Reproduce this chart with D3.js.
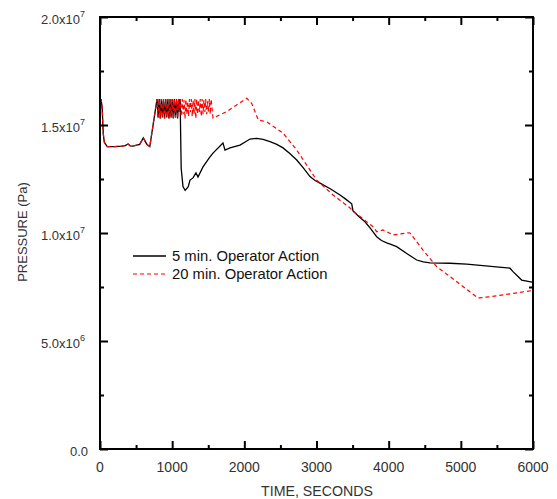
<!DOCTYPE html>
<html><head><meta charset="utf-8">
<script src="https://cdn.jsdelivr.net/npm/d3@7"></script>
<style>body{margin:0;background:#fff}</style>
</head><body>
<svg id="c" width="557" height="499"></svg>
<script>
const xTicks = [0,1000,2000,3000,4000,5000,6000];
const xMinor = [500,1500,2500,3500,4500,5500];
const yTicks = [0,5e6,1e7,1.5e7,2e7];
const yMinor = [2.5e6,7.5e6,1.25e7,1.75e7];
const yTickLabels = [["0.0",""],["5.0x10","6"],["1.0x10","7"],["1.5x10","7"],["2.0x10","7"]];
const seriesNames = ["5 min. Operator Action","20 min. Operator Action"];

const commonT = [0,15,30,45,60,100,200,300,350,390,420,450,550,600,650,690,790];
const commonP = [1.55e7,1.62e7,1.58e7,1.46e7,1.42e7,1.40e7,1.40e7,1.402e7,1.405e7,1.412e7,1.403e7,1.402e7,1.41e7,1.44e7,1.41e7,1.40e7,1.62e7];

const oscT = [805,820,835,850,865,880,895,910,925,940,955,970,985,1000,1015,1030,1045,1060,1075,1090,1100,1110];
const oscP = [1.535e7,1.62e7,1.53e7,1.62e7,1.535e7,1.62e7,1.53e7,1.62e7,1.535e7,1.62e7,1.53e7,1.62e7,1.535e7,1.62e7,1.53e7,1.62e7,1.535e7,1.62e7,1.53e7,1.62e7,1.56e7,1.62e7];

const blackTailT = [1125,1150,1180,1223,1247,1289,1330,1358,1427,1524,1566,1704,1732,1801,1940,2079,2171,2260,2356,2450,2536,2630,2726,2820,2910,2980,3049,3190,3326,3400,3488,3506,3590,3672,3750,3834,3900,3973,4040,4111,4250,4388,4480,4573,4850,5081,5681,5723,5843,5986,6000];
const blackTailP = [1.30e7,1.215e7,1.197e7,1.214e7,1.245e7,1.255e7,1.278e7,1.259e7,1.306e7,1.352e7,1.370e7,1.417e7,1.384e7,1.394e7,1.407e7,1.435e7,1.438e7,1.433e7,1.423e7,1.41e7,1.394e7,1.368e7,1.338e7,1.30e7,1.261e7,1.243e7,1.231e7,1.205e7,1.176e7,1.158e7,1.135e7,1.102e7,1.075e7,1.052e7,1.02e7,0.983e7,0.965e7,0.954e7,0.946e7,0.937e7,0.905e7,0.875e7,0.866e7,0.862e7,0.860e7,0.856e7,0.837e7,0.821e7,0.782e7,0.773e7,0.773e7];

const redTailT = [1125,1140,1152,1165,1178,1190,1203,1215,1228,1240,1253,1265,1278,1290,1303,1315,1328,1340,1353,1365,1378,1390,1403,1415,1428,1440,1453,1465,1478,1490,1503,1515,1528,1540,1566,1755,1894,2033,2102,2194,2310,2536,2726,3003,3229,3464,3506,3783,3834,3922,4061,4268,4296,4476,4666,4850,5238,5404,5982,6000];
const redTailP = [1.54e7,1.62e7,1.55e7,1.615e7,1.53e7,1.62e7,1.55e7,1.61e7,1.54e7,1.62e7,1.56e7,1.62e7,1.54e7,1.615e7,1.55e7,1.62e7,1.53e7,1.62e7,1.55e7,1.615e7,1.56e7,1.62e7,1.54e7,1.62e7,1.55e7,1.615e7,1.56e7,1.62e7,1.55e7,1.61e7,1.56e7,1.62e7,1.55e7,1.62e7,1.532e7,1.562e7,1.593e7,1.624e7,1.600e7,1.523e7,1.515e7,1.463e7,1.384e7,1.245e7,1.176e7,1.116e7,1.102e7,1.029e7,1.006e7,1.014e7,0.991e7,1.001e7,1.0e7,0.921e7,0.844e7,0.798e7,0.699e7,0.705e7,0.733e7,0.734e7];

const blackT = commonT.concat(oscT, blackTailT);
const blackP = commonP.concat(oscP, blackTailP);
const redT = commonT.concat(oscT, redTailT);
const redP = commonP.concat(oscP, redTailP);

const svg = d3.select("#c");
const L=100, R=533, T=17, B=449;
const x = d3.scaleLinear().domain([0,6000]).range([L,R]);
const y = d3.scaleLinear().domain([0,2e7]).range([B,T]);
const font = "'Liberation Sans', Arial, sans-serif";

const line = d3.line().x(d=>x(d[0])).y(d=>y(d[1]));
svg.append("clipPath").attr("id","pc").append("rect").attr("x",L).attr("y",T).attr("width",R-L).attr("height",B-T);
const g = svg.append("g").attr("clip-path","url(#pc)");
g.append("path").datum(d3.zip(blackT,blackP)).attr("d",line).attr("fill","none").attr("stroke","#000").attr("stroke-width",1.3);
g.append("path").datum(d3.zip(redT,redP)).attr("d",line).attr("fill","none").attr("stroke","#ff0000").attr("stroke-width",1.2).attr("stroke-dasharray","4,3");

function ax(gen, tx, ty, vals, size){
  const a = svg.append("g").attr("transform",`translate(${tx},${ty})`)
    .call(gen.tickValues(vals).tickSize(-size).tickFormat(""));
  a.select(".domain").remove();
  a.selectAll(".tick line").attr("stroke","#000").attr("stroke-width",2);
}
ax(d3.axisBottom(x),0,B,xTicks,8); ax(d3.axisBottom(x),0,B,xMinor,4);
ax(d3.axisTop(x),0,T,xTicks,8); ax(d3.axisTop(x),0,T,xMinor,4);
ax(d3.axisLeft(y),L,0,yTicks,8); ax(d3.axisLeft(y),L,0,yMinor,4);
ax(d3.axisRight(y),R,0,yTicks,8); ax(d3.axisRight(y),R,0,yMinor,4);

svg.append("rect").attr("x",L).attr("y",T).attr("width",R-L).attr("height",B-T).attr("fill","none").attr("stroke","#000").attr("stroke-width",2);

svg.append("g").selectAll("text").data(xTicks).join("text")
  .attr("x",d=>x(d)).attr("y",472).attr("text-anchor","middle")
  .attr("font-family",font).attr("font-size",14).attr("fill","#333").text(d=>d);
yTicks.forEach((v,i)=>{
  const lab = yTickLabels[i];
  const t = svg.append("text").attr("x",lab[1]?85:88).attr("y",y(v)+7).attr("text-anchor","end")
    .attr("font-family",font).attr("font-size",13).attr("fill","#333");
  t.append("tspan").text(lab[0]);
  if(lab[1]) t.append("tspan").attr("font-size",9).attr("dy",-7).text(lab[1]);
});
svg.append("text").attr("x",317).attr("y",496).attr("text-anchor","middle")
  .attr("font-family",font).attr("font-size",14.2).attr("fill","#333").text("TIME, SECONDS");
svg.append("text").attr("transform","translate(27,232) rotate(-90)").attr("text-anchor","middle")
  .attr("font-family",font).attr("font-size",13).attr("fill","#333").text("PRESSURE (Pa)");

const lg = svg.append("g");
[[256,"#000",null,1.3],[274,"#ff0000","4,3",1.2]].forEach((s,i)=>{
  lg.append("line").attr("x1",133).attr("x2",166).attr("y1",s[0]).attr("y2",s[0])
    .attr("stroke",s[1]).attr("stroke-width",s[3]).attr("stroke-dasharray",s[2]);
  lg.append("text").attr("x",172).attr("y",s[0]+5).attr("font-family",font).attr("font-size",14.8)
    .attr("fill","#111").text(seriesNames[i]);
});
</script>
</body></html>
